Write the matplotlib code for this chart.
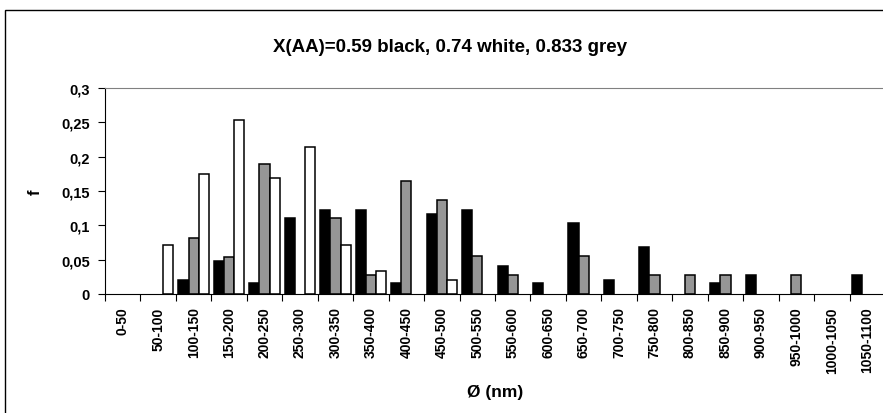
import numpy as np
import matplotlib.pyplot as plt
from matplotlib.patches import Rectangle

plt.rcParams['font.family'] = ['Liberation Sans', 'DejaVu Sans']
plt.rcParams['font.weight'] = 'bold'
plt.rcParams['axes.labelweight'] = 'bold'

categories = ['0-50', '50-100', '100-150', '150-200', '200-250', '250-300',
              '300-350', '350-400', '400-450', '450-500', '500-550', '550-600',
              '600-650', '650-700', '700-750', '750-800', '800-850', '850-900',
              '900-950', '950-1000', '1000-1050', '1050-1100']

black = [0, 0, 0.021, 0.048, 0.016, 0.110, 0.123, 0.123, 0.016, 0.117, 0.123,
         0.041, 0.016, 0.103, 0.021, 0.069, 0, 0.016, 0.028, 0, 0, 0.028]
grey = [0, 0, 0.082, 0.054, 0.190, 0, 0.110, 0.028, 0.164, 0.137, 0.055,
        0.028, 0, 0.055, 0, 0.028, 0.028, 0.028, 0, 0.028, 0, 0]
white = [0, 0.072, 0.175, 0.253, 0.169, 0.214, 0.072, 0.033, 0, 0.020, 0,
         0, 0, 0, 0, 0, 0, 0, 0, 0, 0, 0]

yticks = [0, 0.05, 0.1, 0.15, 0.2, 0.25, 0.3]
ytick_labels = ['0', '0,05', '0,1', '0,15', '0,2', '0,25', '0,3']

fig = plt.figure(figsize=(8.83, 4.14), dpi=100)
# outer chart border (runs off the right and bottom edges like the original)
fig.patches.append(Rectangle((5 / 883, -0.1), 1.1, (414 - 11) / 414 + 0.1,
                             transform=fig.transFigure, fill=False,
                             edgecolor='black', linewidth=1.0))

ax = fig.add_axes([105 / 883, 1 - 295 / 414, 780 / 883, 206 / 414])

x = np.arange(len(categories))
w = 0.285
series = [(black, 'black'), (grey, '#969696'), (white, 'white')]
for i, (vals, col) in enumerate(series):
    lw = [1.1 if v > 0 else 0 for v in vals]
    ax.bar(x + (i - 1) * w, vals, width=w, color=col, edgecolor='black',
           linewidth=lw)

ax.set_xlim(-0.5, len(categories) - 0.5)
ax.set_ylim(0, 0.3)
ax.set_yticks(yticks)
ax.set_yticklabels(ytick_labels, fontsize=10.5, fontweight='bold')
ax.set_xticks(x)
ax.set_xticklabels(categories, rotation=90, fontsize=10, fontweight='bold')
ax.set_xticks(np.arange(len(categories) + 1) - 0.5, minor=True)
ax.tick_params(axis='x', which='major', length=0, pad=9)
ax.tick_params(axis='x', which='minor', length=5, width=0.8, direction='out')
ax.tick_params(axis='y', length=5, width=0.8, direction='out', pad=6)

ax.spines['top'].set_color('#808080')
ax.spines['right'].set_color('#808080')
ax.spines['left'].set_linewidth(0.8)
ax.spines['bottom'].set_linewidth(0.8)

ax.set_ylabel('f', fontsize=12, rotation=90, va='center')
ax.yaxis.set_label_coords((35 - 105) / 780, 0.5)
ax.set_xlabel('Ø (nm)', fontsize=12.5, va='center')
ax.xaxis.set_label_coords(0.5, (295 - 393) / 206)
fig.text(450 / 883, 1 - 47 / 414, 'X(AA)=0.59 black, 0.74 white, 0.833 grey',
         ha='center', va='center', fontsize=13.5, fontweight='bold')

fig.savefig('out.png', dpi=100)
